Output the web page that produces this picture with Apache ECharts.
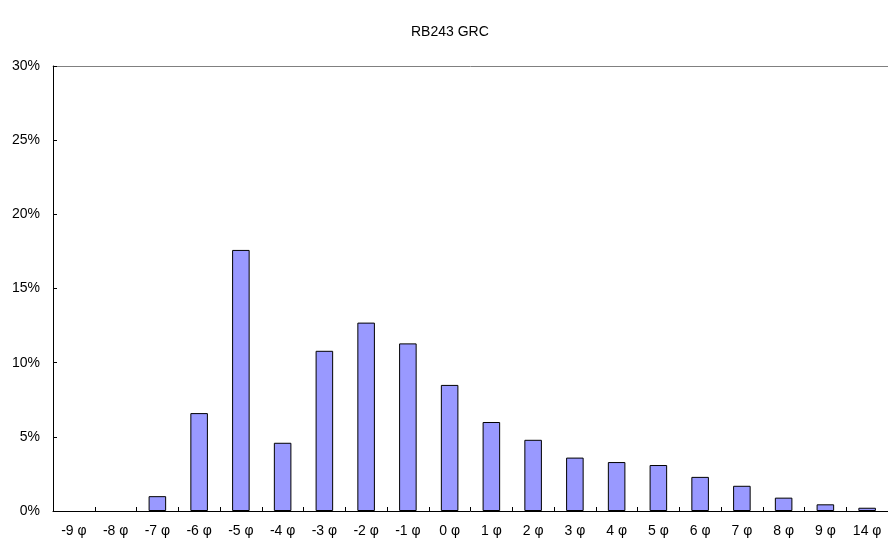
<!DOCTYPE html>
<html>
<head>
<meta charset="utf-8">
<script src="https://cdn.jsdelivr.net/npm/echarts@6/dist/echarts.min.js"></script>
<style>
  html, body { margin: 0; padding: 0; background: #fff; }
  #main { width: 888px; height: 545px; }
</style>
</head>
<body>
<div id="main"></div>
<script>
// grain size classes
var categories = ['-9 φ', '-8 φ', '-7 φ', '-6 φ', '-5 φ', '-4 φ', '-3 φ', '-2 φ', '-1 φ', '0 φ',
  '1 φ', '2 φ', '3 φ', '4 φ', '5 φ', '6 φ', '7 φ', '8 φ', '9 φ', '14 φ'];
// percent of sample
var percents = [0, 0, 1.0, 6.6, 17.6, 4.6, 10.8, 12.7, 11.3, 8.5,
  6.0, 4.8, 3.6, 3.3, 3.1, 2.3, 1.7, 0.9, 0.45, 0.22];
var yTicks = [0, 5, 10, 15, 20, 25, 30];

var font = 'Liberation Sans, Arial, sans-serif';
var myChart = echarts.init(document.getElementById('main'));
myChart.setOption({
  animation: false,
  title: {
    text: 'RB243 GRC',
    left: 406,
    top: 20,
    textStyle: { fontFamily: font, fontSize: 14, fontWeight: 'normal', color: '#000' }
  },
  grid: { left: 53, right: 0, top: 66, bottom: 34 },
  xAxis: [{
    type: 'category',
    data: categories,
    axisLine: { lineStyle: { color: '#000', width: 1 } },
    axisTick: { show: true, inside: true, length: 4, lineStyle: { color: '#000' } },
    axisLabel: { fontFamily: font, fontSize: 14, color: '#000', margin: 13, interval: 0 }
  }, {
    // plot area top border
    type: 'category',
    position: 'top',
    data: categories,
    axisLine: { lineStyle: { color: '#808080', width: 1 } },
    axisTick: { show: false },
    axisLabel: { show: false }
  }],
  yAxis: {
    type: 'value',
    min: yTicks[0],
    max: yTicks[yTicks.length - 1],
    interval: 5,
    axisLine: { show: true, lineStyle: { color: '#000' } },
    axisTick: { show: true, inside: true, length: 4, lineStyle: { color: '#000' } },
    splitLine: { show: false },
    axisLabel: {
      fontFamily: font, fontSize: 14, color: '#000', margin: 13,
      formatter: function (v) { return v + '%'; }
    }
  },
  series: [{
    type: 'bar',
    // empty classes draw no bar at all
    data: percents.map(function (v) { return v === 0 ? '-' : v; }),
    barWidth: '42%',
    itemStyle: { color: '#9999FF', borderColor: '#000', borderWidth: 1 }
  }]
});
</script>
</body>
</html>
